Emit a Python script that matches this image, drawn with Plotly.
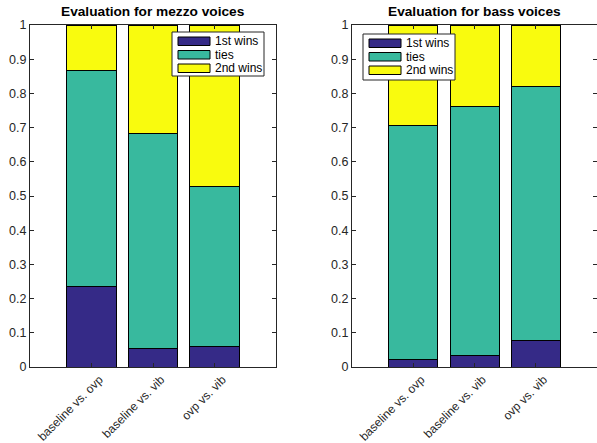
import plotly.graph_objects as go
from plotly.subplots import make_subplots

# Pairwise listening-test results (fractions of judgements)
comparisons = ["baseline vs. ovp", "baseline vs. vib", "ovp vs. vib"]
series_names = ["1st wins", "ties", "2nd wins"]
series_colors = ["#352a87", "#38b99e", "#f9fb0e"]

mezzo_first = [0.236, 0.053, 0.059]
mezzo_ties = [0.632, 0.631, 0.470]
mezzo_second = [0.132, 0.316, 0.471]

bass_first = [0.023, 0.035, 0.078]
bass_ties = [0.683, 0.727, 0.741]
bass_second = [0.294, 0.238, 0.181]

y_ticks = [0, 0.1, 0.2, 0.3, 0.4, 0.5, 0.6, 0.7, 0.8, 0.9, 1]
y_tick_text = ["0", "0.1", "0.2", "0.3", "0.4", "0.5", "0.6", "0.7", "0.8", "0.9", "1"]

W, H = 597, 443
FONT = "Liberation Sans, Arial, Helvetica, sans-serif"
AX = "#262626"

fig = make_subplots(rows=1, cols=2)

panels = [
    (1, [mezzo_first, mezzo_ties, mezzo_second]),
    (2, [bass_first, bass_ties, bass_second]),
]
for col, stacks in panels:
    for name, color, vals in zip(series_names, series_colors, stacks):
        fig.add_trace(
            go.Bar(
                x=[1, 2, 3], y=vals, name=name, width=0.8,
                marker=dict(color=color, line=dict(color="#000000", width=1)),
                showlegend=False,
            ),
            row=1, col=col,
        )

# pixel-based domains of the two axes boxes
left_px = (30, 276)
right_px = (352, 597)
top_px, bot_px = 25, 367
ydom = [(H - bot_px) / H, (H - top_px) / H]

axis_common = dict(
    showline=True, linecolor=AX, linewidth=1, mirror="ticks",
    ticks="inside", ticklen=4, tickcolor=AX, showgrid=False, zeroline=False,
    automargin=False,
)
fig.update_xaxes(
    range=[0, 4], tickvals=[1, 2, 3], ticktext=comparisons, tickangle=-45,
    ticklabelshift=8,
    tickfont=dict(family=FONT, size=12, color=AX),
    **axis_common,
)
fig.update_yaxes(
    range=[0, 1], tickvals=y_ticks, ticktext=y_tick_text,
    tickfont=dict(family=FONT, size=12.5, color=AX),
    **axis_common,
)
fig.update_layout(
    xaxis=dict(domain=[left_px[0] / W, left_px[1] / W]),
    xaxis2=dict(domain=[right_px[0] / W, right_px[1] / W]),
    yaxis=dict(domain=ydom),
    yaxis2=dict(domain=ydom),
)

# panel titles
titles = ["Evaluation for mezzo voices", "Evaluation for bass voices"]
title_centres = [(left_px[0] + left_px[1]) / 2, right_px[0] + 122.5]
for cx, t in zip(title_centres, titles):
    fig.add_annotation(
        x=cx / W, y=1 - 21 / H, xref="paper", yref="paper",
        text="<b>%s</b>" % t, showarrow=False, xanchor="center", yanchor="bottom",
        font=dict(family=FONT, size=13.7, color="#000000"),
    )


def px(x, y):
    return x / W, 1 - y / H


# boxed legends inside each panel
def add_legend(x0, y0, w, h):
    bx0, by0 = px(x0, y0)
    bx1, by1 = px(x0 + w, y0 + h)
    fig.add_shape(type="rect", xref="paper", yref="paper",
                  x0=bx0, y0=by1, x1=bx1, y1=by0,
                  line=dict(color=AX, width=1), fillcolor="#ffffff", layer="above")
    for i, (name, color) in enumerate(zip(series_names, series_colors)):
        ry = y0 + 5 + i * 13.5
        sx0, sy0 = px(x0 + 6, ry)
        sx1, sy1 = px(x0 + 38, ry + 8.5)
        fig.add_shape(type="rect", xref="paper", yref="paper",
                      x0=sx0, y0=sy1, x1=sx1, y1=sy0,
                      line=dict(color="#000000", width=1), fillcolor=color, layer="above")
        tx, ty = px(x0 + 41, ry + 4.25)
        fig.add_annotation(x=tx, y=ty, xref="paper", yref="paper", text=name,
                           showarrow=False, xanchor="left", yanchor="middle",
                           font=dict(family=FONT, size=12, color="#000000"))


add_legend(172, 32, 92, 44)
add_legend(363, 34, 92, 46)

fig.update_layout(
    width=W, height=H, margin=dict(l=0, r=0, t=0, b=0),
    barmode="stack", plot_bgcolor="#ffffff", paper_bgcolor="#ffffff",
    showlegend=False,
)

fig.write_html("out.html")
